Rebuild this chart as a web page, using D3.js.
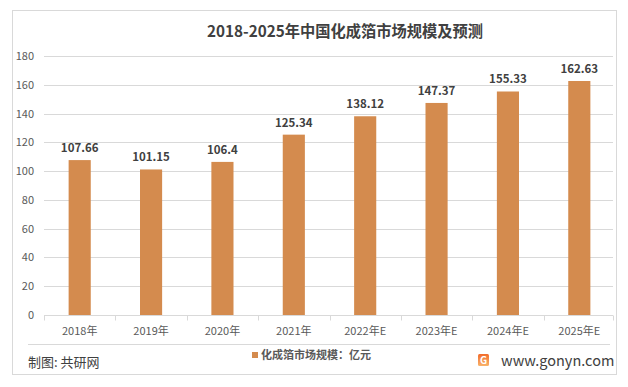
<!DOCTYPE html>
<html>
<head>
<meta charset="utf-8">
<script src="https://cdn.jsdelivr.net/npm/d3@7"></script>
<style>
  body { margin: 0; background: #fff; }
  text { font-family: "Noto Sans CJK SC", "Noto Sans", sans-serif; }
</style>
</head>
<body>
<div id="chart"></div>
<script>
// Chart data
const years = ['2018年', '2019年', '2020年', '2021年', '2022年E', '2023年E', '2024年E', '2025年E'];
const marketSize = [107.66, 101.15, 106.4, 125.34, 138.12, 147.37, 155.33, 162.63];
const yTicks = [0, 20, 40, 60, 80, 100, 120, 140, 160, 180];

const w = 628, h = 387,
  plotL = 44, plotR = 615, plotT = 56, plotB = 315,
  barColor = '#D48B4E';

const svg = d3.select('#chart').append('svg')
  .attr('width', w).attr('height', h);

// outer frame
svg.append('rect')
  .attr('x', 12.5).attr('y', 10.5)
  .attr('width', 604).attr('height', 364)
  .attr('fill', '#fff').attr('stroke', '#d9d9d9');

const x = d3.scaleBand().domain(years).range([plotL, plotR]).paddingInner(0.69).paddingOuter(0.345);
const xAxisScale = d3.scaleBand().domain(years).range([plotL, plotR]);
const y = d3.scaleLinear().domain([0, 180]).range([plotB, plotT]);

// gridlines
svg.append('g').selectAll('line')
  .data(yTicks.filter(d => d > 0))
  .join('line')
  .attr('x1', plotL).attr('x2', plotR - 2)
  .attr('y1', d => Math.round(y(d)) + 0.5).attr('y2', d => Math.round(y(d)) + 0.5)
  .attr('stroke', '#d9d9d9');

// y tick labels
svg.append('g').selectAll('text')
  .data(yTicks)
  .join('text')
  .attr('x', 34).attr('y', d => y(d) + 4)
  .attr('text-anchor', 'end')
  .attr('font-size', 11).attr('fill', '#595959')
  .text(d => d);

// bars
svg.append('g').selectAll('rect')
  .data(marketSize)
  .join('rect')
  .attr('x', (d, i) => x(years[i]))
  .attr('y', d => y(d))
  .attr('width', x.bandwidth())
  .attr('height', d => plotB - y(d))
  .attr('fill', barColor);

// value labels
svg.append('g').selectAll('text')
  .data(marketSize)
  .join('text')
  .attr('x', (d, i) => x(years[i]) + x.bandwidth() / 2)
  .attr('y', d => y(d) - 8)
  .attr('text-anchor', 'middle')
  .attr('font-size', 11.5).attr('font-weight', 'bold').attr('fill', '#404040')
  .text(d => d);

// x axis
const xAxis = svg.append('g')
  .attr('transform', `translate(0,${plotB + 0.5})`)
  .call(d3.axisBottom(xAxisScale).tickSize(0).tickPadding(12));
xAxis.select('.domain').attr('stroke', '#d9d9d9').attr('d', `M${plotL},0H${plotR - 2}`);
xAxis.selectAll('text')
  .attr('font-family', '"Noto Sans CJK SC", sans-serif')
  .attr('font-size', 11).attr('fill', '#595959');
// tick marks between categories
xAxis.selectAll('line.sep')
  .data(d3.range(years.length + 1))
  .join('line')
  .attr('class', 'sep')
  .attr('x1', i => Math.min(Math.round(plotL + i * xAxisScale.step()), plotR - 2) + 0.5)
  .attr('x2', i => Math.min(Math.round(plotL + i * xAxisScale.step()), plotR - 2) + 0.5)
  .attr('y1', 0).attr('y2', 5)
  .attr('stroke', '#d9d9d9');

// title
svg.append('text')
  .attr('x', 345).attr('y', 37)
  .attr('text-anchor', 'middle')
  .attr('font-size', 15.5).attr('font-weight', 'bold').attr('fill', '#404040')
  .attr('textLength', 276).attr('lengthAdjust', 'spacingAndGlyphs')
  .text('2018-2025年中国化成箔市场规模及预测');

// footer separator
svg.append('line')
  .attr('x1', 28).attr('x2', 610).attr('y1', 344.5).attr('y2', 344.5)
  .attr('stroke', '#d9d9d9');

svg.append('text')
  .attr('x', 28).attr('y', 367)
  .attr('font-size', 13).attr('fill', '#404040')
  .text('制图: 共研网');

// legend
svg.append('rect')
  .attr('x', 252).attr('y', 352).attr('width', 6).attr('height', 6)
  .attr('fill', barColor);
svg.append('text')
  .attr('x', 261).attr('y', 359)
  .attr('font-size', 11).attr('font-weight', 'bold').attr('fill', '#595959')
  .text('化成箔市场规模：亿元');

// logo + site
const grad = svg.append('defs').append('linearGradient')
  .attr('id', 'logoGrad').attr('x1', 0).attr('y1', 0).attr('x2', 0).attr('y2', 1);
grad.append('stop').attr('offset', 0).attr('stop-color', '#F26B2A');
grad.append('stop').attr('offset', 1).attr('stop-color', '#F9B36B');
const logo = svg.append('g').attr('transform', 'translate(478,354)');
logo.append('rect').attr('width', 11).attr('height', 12).attr('rx', 1.5).attr('fill', 'url(#logoGrad)');
logo.append('text').attr('x', 5.5).attr('y', 10).attr('text-anchor', 'middle')
  .attr('font-size', 10).attr('font-weight', 'bold').attr('fill', '#fff').text('G');
svg.append('text')
  .attr('x', 501).attr('y', 366)
  .attr('font-size', 14.5).attr('fill', '#404040')
  .text('www.gonyn.com');
</script>
</body>
</html>
